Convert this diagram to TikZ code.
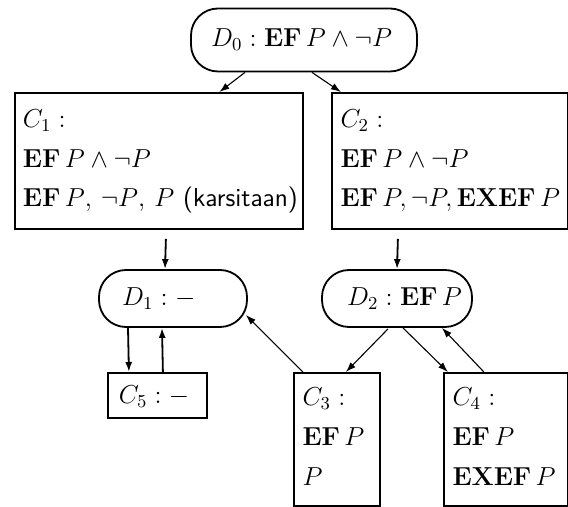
\RequirePackage{fix-cm}
\documentclass[tikz,border=0pt]{standalone}
\usetikzlibrary{arrows.meta,calc}
\hfuzz=100pt \hbadness=10000
\newcommand\EFop{\mathop{\mathbf{EF}}\nolimits}
\newcommand\EXEFop{\mathop{\mathbf{EXEF}}\nolimits}
\newcommand\boxlines[2]{\vtop{\baselineskip=#1\lineskiplimit=-100pt\lineskip=0pt #2}}
\begin{document}
\begin{tikzpicture}[x=0.5pt,y=-0.5pt,
  every node/.style={font=\fontsize{13}{16}\selectfont},
  oval/.style={draw,line width=0.9pt,rounded corners=13.5pt,inner ysep=0pt,anchor=center},
  cbox/.style={draw,line width=0.9pt,anchor=north west,inner xsep=4pt,
    inner ysep=8.5pt,text height=9pt,text depth=42pt},
  cboxb/.style={draw,line width=0.9pt,anchor=north west,inner xsep=4.3pt,
    inner ysep=7.5pt,text height=9pt,text depth=42.5pt},
  thick arr/.style={line width=0.9pt,-{Latex[length=5pt,width=3.5pt]}},
  thin arr/.style={line width=0.55pt,-{Latex[length=5pt,width=3.5pt]}}]
\useasboundingbox (0,0) rectangle (568,507);

\node[oval,minimum height=31.5pt,inner xsep=10pt] (d0) at (304,40)
  {\makebox[93pt][l]{$D_0:\EFop P\wedge\neg P$}};

\node[cbox] (c1) at (14,92)
  {\makebox[136pt][l]{\boxlines{19.6pt}{\hbox{$C_1:$}\hbox{$\EFop P\wedge\neg P$}%
   \hbox to 137.5pt{$\EFop P$, $\neg P$, $P$ \textsf{(karsitaan)}}}}};
\node[cbox,inner xsep=4.3pt] (c2) at (331,92)
  {\makebox[109.15pt][l]{\boxlines{19.6pt}{\hbox{$C_2:$}\hbox{$\EFop P\wedge\neg P$}%
   \hbox{$\EFop P,\neg P,\EXEFop P$}}}};

\node[oval,minimum height=28.5pt,inner xsep=11.5pt] (d1) at (173,298.5)
  {\makebox[51pt][l]{$D_1:-$}};
\node[oval,minimum height=28.5pt,inner xsep=12.5pt] (d2) at (397,298.5)
  {\makebox[50pt][l]{$D_2:\EFop P$}};

\node[draw,line width=0.9pt,anchor=north west,inner xsep=5.5pt,inner ysep=6.5pt,
  text height=9pt,text depth=0.5pt] (c5) at (107,372) {\makebox[38.5pt][l]{$C_5:-$}};
\node[cboxb] (c3) at (293,372)
  {\makebox[34.4pt][l]{\boxlines{20pt}{\hbox{$C_3:$}\hbox{$\EFop P$}\hbox{$P$}}}};
\node[cboxb] (c4) at (443,372)
  {\makebox[53.15pt][l]{\boxlines{20pt}{\hbox{$C_4:$}\hbox{$\EFop P$}\hbox{$\EXEFop P$}}}};

\draw[thin arr] ($(d0.south)+(-59,0)$) -- ($(c1.north)+(60.5,0)$);
\draw[thin arr] ($(d0.south)+(8,0)$) -- ($(c2.north)+(-108.75,0)$);
\draw[thick arr] ($(c1.south)+(7,9)$) -- ($(d1.north)+(-8,0)$);
\draw[thick arr] ($(c2.south)+(-51.75,9)$) -- (d2.north);
\draw[thick arr] ($(d1.south)+(-45,0)$) -- ($(c5.north)+(-28.5,0)$);
\draw[thick arr] ($(c5.north)+(5.5,0)$) -- ($(d1.south)+(-11,0)$);
\draw[thin arr] ($(c3.north)+(-34,0)$) -- ($(d1.east)+(-2,16.5)$);
\draw[thin arr] ($(d2.south)+(-9,1)$) -- ($(c3.north)+(9,0)$);
\draw[thin arr] ($(d2.south)+(6,0)$) -- ($(c4.north)+(-57.75,0)$);
\draw[thin arr] ($(c4.north)+(-21.75,0)$) -- ($(d2.south)+(45,0)$);
\end{tikzpicture}
\end{document}
